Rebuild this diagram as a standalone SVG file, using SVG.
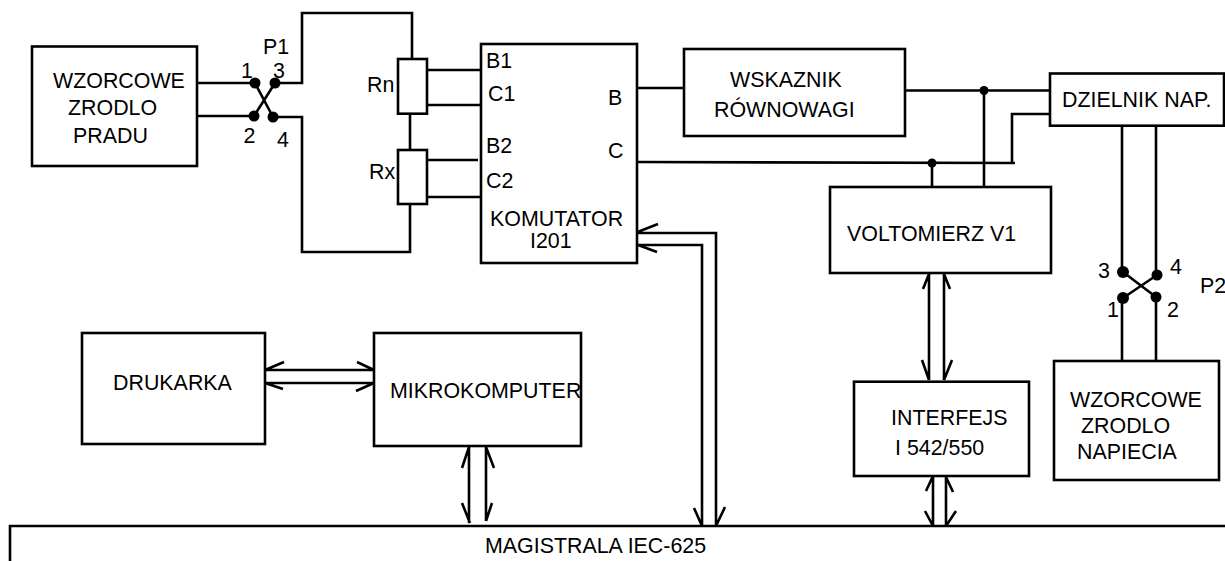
<svg xmlns="http://www.w3.org/2000/svg" width="1225" height="561" viewBox="0 0 1225 561">
<style>
.b{fill:#fff;stroke:#000;stroke-width:2.6}
.w{fill:none;stroke:#000;stroke-width:2.6;stroke-linejoin:miter}
.d{fill:#000;stroke:none}
text{font-family:"Liberation Sans",Arial,sans-serif;font-size:21.4px;fill:#000}
</style>
<rect width="1225" height="561" fill="#fff"/>
<g id="connectors" class="w">
<path d="M197 83H255M197 116H254"/>
<path d="M255 83L273 117M254 116L275 83"/>
<path d="M275 83H302V13H412V59M273 117H302V252H410V204M410 114V150"/>
<path d="M427 70H481M427 105H481M427 160H478M427 197H481"/>
<path d="M637 88H684M904 90.500H1050M984 90.500V187"/>
<path d="M637 162L1015 163M932 163V187M1050 114H1012V163"/>
<path d="M1122 126V272M1156 126V275M1123 272L1156 297M1157 275L1123 298M1122 298V360M1156 297V360"/>
<path d="M929 273V380M944 273V380M923 289L929 274M950 289L944 274M922 360L929 380M952 360L944 380"/>
<path d="M933 476V526M946 476V526M926 491L933 476M953 492L946 477M925 511L933 526M956 511L946 526"/>
<path d="M265 370H374M265 383H374M284 362L265 370M283 389L265 383M357 362L374 370M356 391L374 383"/>
<path d="M469 446V523M486 446V521M462 468L469 447M494 468L486 447M462 503L470 523M492 503L486 521"/>
<path d="M635 233H716V526M638 245H702V526M658 224L635 233M657 252L638 245M694 508L702 526M725 507L716 526"/>
<circle class="d" cx="255" cy="83" r="5.500"/><circle class="d" cx="254" cy="116" r="5.500"/><circle class="d" cx="275" cy="83" r="5.500"/><circle class="d" cx="273" cy="117" r="5.500"/>
<circle class="d" cx="1123" cy="272" r="6"/><circle class="d" cx="1157" cy="275" r="5.500"/><circle class="d" cx="1123" cy="298" r="6"/><circle class="d" cx="1156" cy="297" r="5.500"/>
<circle class="d" cx="984" cy="90.500" r="4.500"/><circle class="d" cx="932" cy="163" r="4.500"/>
</g>
<g id="zrodlo-pradu"><rect class="b" x="32" y="46.500" width="165" height="119.500"/><text x="53" y="88">WZORCOWE</text><text x="68" y="115">ZRODLO</text><text x="73" y="143">PRADU</text></g>
<g id="p1"><text x="263" y="54">P1</text><text x="241" y="78">1</text><text x="273" y="78">3</text><text x="243.500" y="143">2</text><text x="277" y="147">4</text></g>
<g id="rn"><rect class="b" x="398" y="59" width="29" height="54.700"/><text x="367" y="92">Rn</text></g>
<g id="rx"><rect class="b" x="398" y="150" width="29" height="54"/><text x="369" y="179">Rx</text></g>
<g id="komutator"><rect class="b" x="481" y="44" width="156" height="219"/><text x="486" y="68">B1</text><text x="488" y="101">C1</text><text x="608" y="105">B</text><text x="486" y="153">B2</text><text x="608" y="158">C</text><text x="486" y="188">C2</text><text x="490" y="226">KOMUTATOR</text><text x="530" y="248">I201</text></g>
<g id="wskaznik"><rect class="b" x="684" y="49" width="221" height="87"/><text x="730" y="87">WSKAZNIK</text><text x="714" y="117">RÓWNOWAGI</text></g>
<g id="dzielnik"><rect class="b" x="1050" y="73.500" width="174" height="52.200"/><text x="1062" y="107">DZIELNIK NAP.</text></g>
<g id="voltomierz"><rect class="b" x="830" y="187" width="221" height="86"/><text x="847" y="241">VOLTOMIERZ V1</text></g>
<g id="p2"><text x="1098" y="278">3</text><text x="1170" y="274">4</text><text x="1200" y="293">P2</text><text x="1107" y="317">1</text><text x="1167" y="317">2</text></g>
<g id="interfejs"><rect class="b" x="854" y="381.700" width="175" height="94.300"/><text x="891" y="425">INTERFEJS</text><text x="895" y="455">I 542/550</text></g>
<g id="zrodlo-napiecia"><rect class="b" x="1054" y="361" width="165" height="119"/><text x="1070" y="407">WZORCOWE</text><text x="1081" y="433">ZRODLO</text><text x="1077" y="459">NAPIECIA</text></g>
<g id="drukarka"><rect class="b" x="82" y="333" width="183" height="111"/><text x="113" y="390">DRUKARKA</text></g>
<g id="mikrokomputer"><rect class="b" x="374" y="333" width="207" height="113"/><text x="390" y="398">MIKROKOMPUTER</text></g>
<g id="magistrala"><path class="w" d="M10 561V526H1225"/><text x="485" y="553">MAGISTRALA IEC-625</text></g>
</svg>
